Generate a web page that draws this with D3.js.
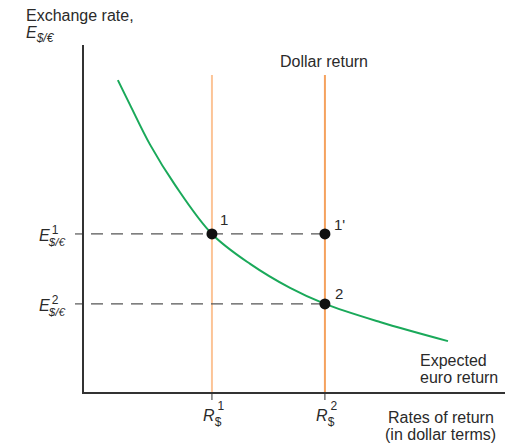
<!DOCTYPE html>
<html><head><meta charset="utf-8">
<script src="https://cdn.jsdelivr.net/npm/d3@7"></script>
<style>body{margin:0;background:#fff}text{font-family:"Liberation Sans",Arial,sans-serif;fill:#2a2a2a}</style>
</head><body><svg id="c" width="511" height="446"></svg>
<script>
// Data (arbitrary model units)
const curveX = [0.83, 1.12, 1.60, 2.19, 3.07, 3.98, 4.93, 5.76, 7.07, 8.69];
const curveY = [8.99, 8.28, 7.13, 5.98, 4.57, 3.71, 3.02, 2.56, 2.04, 1.49];
const returnsX = [3.07, 5.76];          // R$^1, R$^2
const returnTicks = ["1", "2"];
const rateY = [4.57, 2.56];             // E^1, E^2
const rateTicks = ["1", "2"];
const pointLabels = ["1", "1'", "2"];
const pointX = [3.07, 5.76, 5.76];
const pointY = [4.57, 4.57, 2.56];

const svg = d3.select("#c");
const x = d3.scaleLinear().domain([0, 10]).range([83, 503]);
const y = d3.scaleLinear().domain([0, 10]).range([393, 45]);
const yTop = 9.14;

// vertical dollar return lines
const vColors = ["#fcc497", "#f5a25e"];
svg.selectAll(".vl").data(returnsX).enter().append("line")
  .attr("x1", d => x(d)).attr("x2", d => x(d))
  .attr("y1", y(yTop)).attr("y2", y(0))
  .attr("stroke", (d, i) => vColors[i]).attr("stroke-width", 2);

// dashed horizontal lines
svg.selectAll(".hl").data(rateY).enter().append("line")
  .attr("x1", x(0)).attr("x2", x(returnsX[1]))
  .attr("y1", d => y(d)).attr("y2", d => y(d))
  .attr("stroke", "#555").attr("stroke-width", 1.3).attr("stroke-dasharray", "12,8")
  .attr("stroke-dashoffset", -8);

// curve
const pts = curveX.map((v, i) => [v, curveY[i]]);
svg.append("path").datum(pts)
  .attr("d", d3.line().x(d => x(d[0])).y(d => y(d[1])).curve(d3.curveCatmullRom))
  .attr("fill", "none").attr("stroke", "#1aa95a").attr("stroke-width", 2);

// axes
svg.append("line").attr("x1", x(0)).attr("x2", x(0)).attr("y1", y(10)).attr("y2", y(0))
  .attr("stroke", "#333").attr("stroke-width", 2);
svg.append("line").attr("x1", x(0) - 1).attr("x2", 505).attr("y1", y(0)).attr("y2", y(0))
  .attr("stroke", "#333").attr("stroke-width", 2);

// ticks
svg.selectAll(".xt").data(returnsX).enter().append("line")
  .attr("x1", d => x(d)).attr("x2", d => x(d)).attr("y1", y(0)).attr("y2", y(0) + 7)
  .attr("stroke", "#333").attr("stroke-width", 1);
svg.selectAll(".yt").data(rateY).enter().append("line")
  .attr("x1", x(0) - 8).attr("x2", x(0)).attr("y1", d => y(d)).attr("y2", d => y(d))
  .attr("stroke", "#333").attr("stroke-width", 1);

// points
svg.selectAll(".pt").data(pointX).enter().append("circle")
  .attr("cx", d => x(d)).attr("cy", (d, i) => y(pointY[i])).attr("r", 5.5).attr("fill", "#111");
const offs = [[8, -9], [9, -4], [10, -5]];
svg.selectAll(".pl").data(pointLabels).enter().append("text")
  .attr("x", (d, i) => x(pointX[i]) + offs[i][0]).attr("y", (d, i) => y(pointY[i]) + offs[i][1])
  .attr("font-size", 15).text(d => d);

// y tick labels: E with superscript and subscript $/€
rateY.forEach((v, i) => {
  const t = svg.append("text").attr("x", 39).attr("y", y(v) + 7);
  t.append("tspan").attr("font-size", 16).attr("font-style", "italic").text("E");
  t.append("tspan").attr("font-size", 12).attr("dx", 2).attr("dy", -6.5).text(rateTicks[i]);
  t.append("tspan").attr("font-size", 11.5).attr("font-style", "italic").attr("dx", -9.5).attr("dy", 11.5).text("$/€");
});

// x tick labels: R with superscript and subscript $
returnsX.forEach((v, i) => {
  const t = svg.append("text").attr("x", x(v) - 9).attr("y", 421);
  t.append("tspan").attr("font-size", 16).attr("font-style", "italic").text("R");
  t.append("tspan").attr("font-size", 12).attr("dx", 3).attr("dy", -11).text(returnTicks[i]);
  t.append("tspan").attr("font-size", 12).attr("dx", -9.5).attr("dy", 16).text("$");
});

// titles
svg.append("text").attr("x", 26).attr("y", 21).attr("font-size", 16).text("Exchange rate,");
const et = svg.append("text").attr("x", 26).attr("y", 38);
et.append("tspan").attr("font-size", 16).attr("font-style", "italic").text("E");
et.append("tspan").attr("font-size", 12).attr("font-style", "italic").attr("dy", 4).text("$/€");
svg.append("text").attr("x", 324).attr("y", 67).attr("font-size", 16).attr("text-anchor", "middle").text("Dollar return");
svg.append("text").attr("x", 420).attr("y", 366).attr("font-size", 16).text("Expected");
svg.append("text").attr("x", 420).attr("y", 383).attr("font-size", 16).text("euro return");
svg.append("text").attr("x", 388).attr("y", 423).attr("font-size", 16).text("Rates of return");
svg.append("text").attr("x", 385).attr("y", 440).attr("font-size", 16).text("(in dollar terms)");
</script></body></html>
